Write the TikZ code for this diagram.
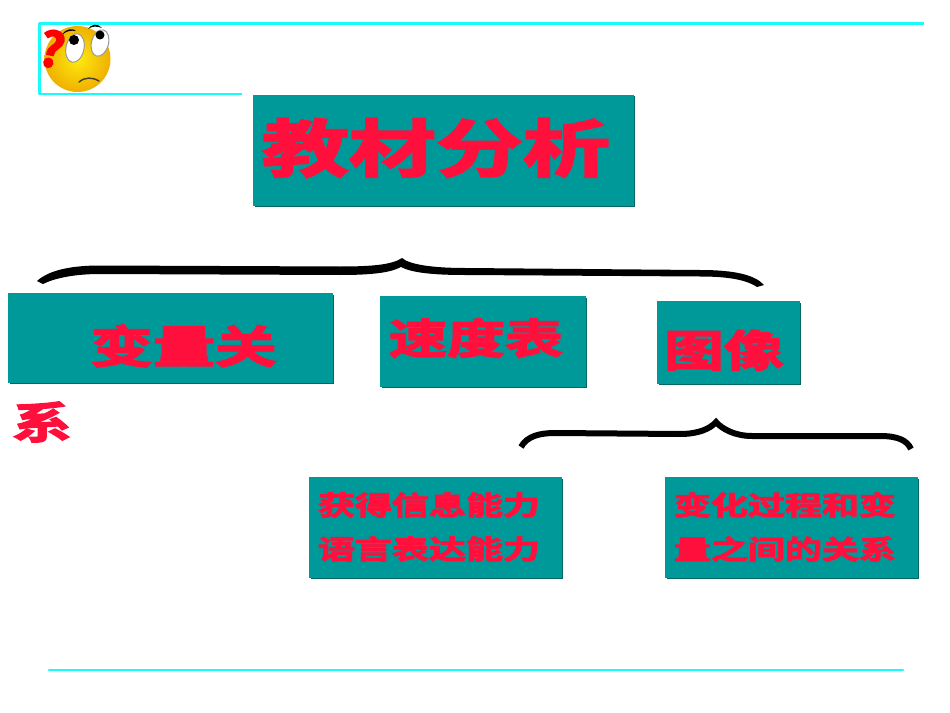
\documentclass[tikz,border=0pt]{standalone}
\usepackage{fontspec}
\usetikzlibrary{shadings}
\newfontfamily\cjk[FakeBold=3]{Noto Sans CJK SC Bold}
\definecolor{tealbox}{HTML}{009999}
\definecolor{tealdark}{HTML}{006666}
\definecolor{redtext}{HTML}{FF0F3C}
\definecolor{cyanline}{HTML}{19FBFB}
\definecolor{faceinner}{HTML}{FFEA10}
\definecolor{faceouter}{HTML}{EFB000}
\tikzset{
  x=1bp,y=-1bp,
  panel/.style={fill=tealbox,draw=none,anchor=north west,inner sep=0pt,outer sep=0pt},
  hanzi/.style={text=redtext,inner sep=0pt,anchor=center,xscale=1,yscale=0.72,transform shape},
  rule/.style={draw=cyanline,line width=2.8bp,line join=round},
}
\newcommand{\fsz}[1]{\fontsize{#1bp}{#1bp}\selectfont\cjk}
\newcommand{\panelbox}[5]{% name,x,y,w,h
  \fill[tealdark] (#2+1.5,#3+1.5) rectangle ++(#4-1,#5-1);
  \node[panel,minimum width=#4bp,minimum height=#5bp] (#1) at (#2,#3) {};
}
\begin{document}
\begin{tikzpicture}
\useasboundingbox (0,0) rectangle (950,713);
\fill[white] (0,0) rectangle (950,713);
% rules
\draw[rule] (924,23.5) -- (39.5,23.5) -- (39.5,94) -- (242,94);
\draw[rule,line cap=round] (49,670) -- (903,670);
% face
\shade[inner color=faceinner,outer color=faceouter] (77.5,59) circle (33);
\draw[black!70!olive,line width=1.4bp,line cap=round] (79,82) .. controls (85,77) and (92,77) .. (99,81);
\fill[black] (62,35) .. controls (66,28) and (73,28) .. (76,31) .. controls (71,30) and (66,31) .. (62,35);
\fill[black] (88,29) .. controls (91,24) and (98,23) .. (102,28) .. controls (97,26) and (92,26) .. (88,29);
\filldraw[fill=white,draw=black!40,line width=1bp,rotate around={-12:(75,48)}] (75,48) ellipse (9 and 14.5);
\filldraw[fill=white,draw=black!40,line width=1bp,rotate around={-15:(100,43)}] (100,43) ellipse (8.5 and 13.5);
\fill[black] (74,40) circle (5);
\fill[black] (100,35) circle (4.5);
\node[inner sep=0pt,text=red,rotate=-12] (q) at (52,49) {\fontsize{48bp}{48bp}\selectfont\cjk ?};
% top panel
\panelbox{title}{253}{95}{381}{111}
\node[hanzi] at (436,148) {\fsz{87}教材分析};
% top brace
\coordinate (b1s) at (37,281);
\coordinate (b1m) at (402,258);
\coordinate (b1e) at (764,285);
\fill[black] (b1s) .. controls (50,269) and (75,265.5) .. (100,265.5)
  -- (340,266.5) .. controls (370,266.5) and (392,265) .. (b1m)
  .. controls (410,265) and (435,268) .. (465,268)
  -- (700,270) .. controls (735,270) and (755,275) .. (b1e)
  -- (757,287) .. controls (745,279) and (725,276.5) .. (700,276.5)
  -- (465,275) .. controls (435,275) and (412,273) .. (401,267)
  .. controls (390,273) and (370,275) .. (340,275)
  -- (100,274) .. controls (75,274) and (55,278) .. (43,284) -- cycle;
% second row panels
\panelbox{vars}{8}{293}{325}{90}
\node[hanzi] at (184,346) {\fsz{62}变量关};
\panelbox{speed}{380}{296}{206}{91}
\node[hanzi] at (476,338) {\fsz{58}速度表};
\panelbox{graph}{657}{301}{143}{83}
\node[hanzi] at (724,350) {\fsz{60}图像};
\node[hanzi] at (42,422) {\fsz{60}系};
% lower brace
\coordinate (b2s) at (521,447);
\coordinate (b2m) at (716,418);
\coordinate (b2e) at (913,449);
\draw[black,line width=6bp] (b2s) .. controls (527,436) and (540,433) .. (555,433)
  -- (680,434) .. controls (698,434) and (710,429) .. (716,422)
  .. controls (722,429) and (735,436) .. (752,436)
  -- (880,436) .. controls (897,436) and (907,440) .. (911,449);
% lower panels
\panelbox{info}{309}{477}{253}{101}
\node[hanzi] at (429,505) {\fsz{37}获得信息能力};
\node[hanzi] at (429,549) {\fsz{37}语言表达能力};
\panelbox{proc}{665}{477}{253}{101}
\node[hanzi] at (785,505) {\fsz{37}变化过程和变};
\node[hanzi] at (785,549) {\fsz{37}量之间的关系};
\end{tikzpicture}
\end{document}
